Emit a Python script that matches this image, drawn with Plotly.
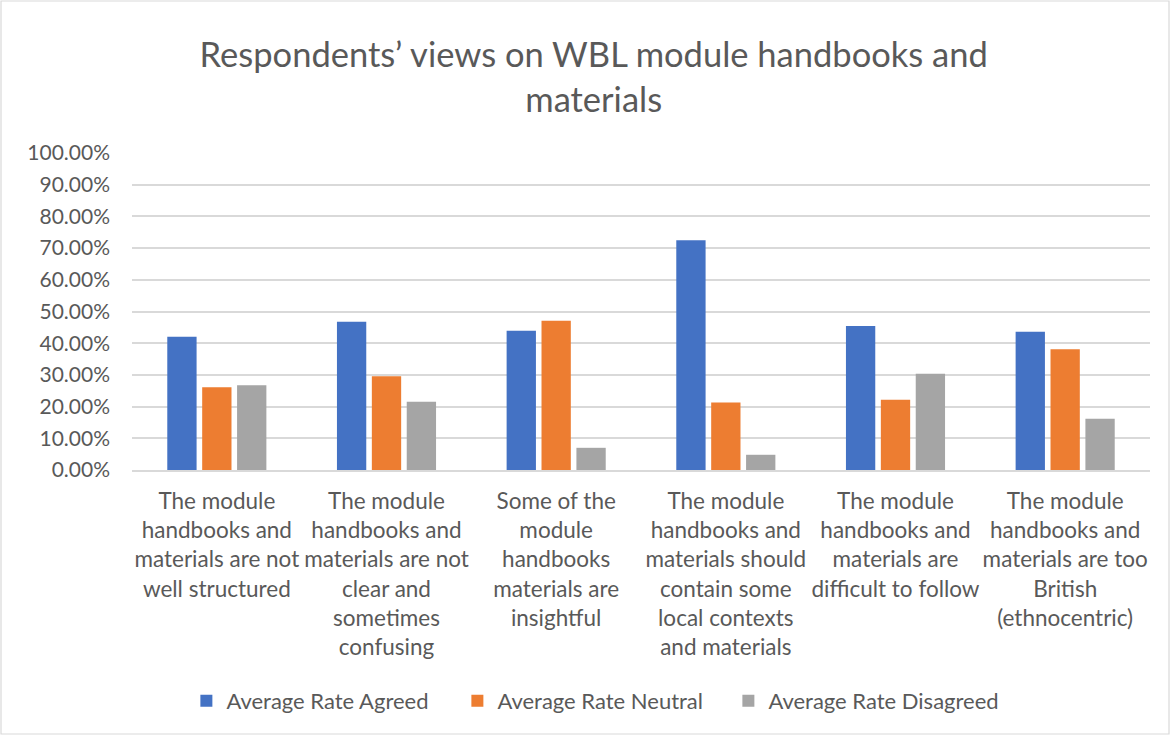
import plotly.graph_objects as go

# Survey statements (x-axis categories)
categories = [
    "The module<br>handbooks and<br>materials are not<br>well structured",
    "The module<br>handbooks and<br>materials are not<br>clear and<br>sometimes<br>confusing",
    "Some of the<br>module<br>handbooks<br>materials are<br>insightful",
    "The module<br>handbooks and<br>materials should<br>contain some<br>local contexts<br>and materials",
    "The module<br>handbooks and<br>materials are<br>difficult to follow",
    "The module<br>handbooks and<br>materials are too<br>British<br>(ethnocentric)",
]

# Average response rates per statement
agreed = [0.420, 0.468, 0.439, 0.725, 0.454, 0.436]
neutral = [0.261, 0.296, 0.471, 0.213, 0.222, 0.381]
disagreed = [0.267, 0.215, 0.070, 0.048, 0.304, 0.162]

series_names = ["Average Rate Agreed", "Average Rate Neutral", "Average Rate Disagreed"]
series_colors = ["#4472C4", "#ED7D31", "#A5A5A5"]

title_text = "Respondents’ views on WBL module handbooks and<br>materials"

FONT = "Lato"
GREY_TEXT = "#595959"
W, H = 1171, 736
L, R, T, B = 132, 21, 153, 266

fig = go.Figure()
for name, vals, col in zip(series_names, [agreed, neutral, disagreed], series_colors):
    fig.add_trace(go.Bar(
        x=categories, y=vals, name=name,
        marker=dict(color=col, line=dict(width=0)),
    ))

plot_w = W - L - R
plot_h = H - T - B

fig.update_layout(
    width=W, height=H,
    margin=dict(l=L, r=R, t=T, b=B, autoexpand=False),
    paper_bgcolor="white", plot_bgcolor="white",
    barmode="group", bargap=0.383, bargroupgap=0.16,
    font=dict(family=FONT, color=GREY_TEXT),
    title=dict(
        text=title_text, x=0.507, xref="container", xanchor="center",
        y=(H - 67) / H, yref="container", yanchor="middle",
        font=dict(family=FONT, size=34.5, color=GREY_TEXT),
    ),
    legend=dict(
        orientation="h", x=0.5063, xref="container", xanchor="center",
        y=(H - 701) / H, yref="container", yanchor="middle",
        font=dict(family=FONT, size=22, color=GREY_TEXT),
        itemwidth=30, traceorder="normal",
        entrywidth=226, entrywidthmode="pixels",
    ),
    yaxis=dict(
        range=[0, 1], dtick=0.1, tickformat=".2%",
        showgrid=True, gridcolor="#D9D9D9", gridwidth=1.5,
        zeroline=False, showline=False, ticks="",
        tickfont=dict(family=FONT, size=21, color=GREY_TEXT),
        ticklabelstandoff=21,
    ),
    xaxis=dict(
        showline=True, linecolor="#D9D9D9", linewidth=1.5,
        ticks="", tickangle=0,
        tickfont=dict(family=FONT, size=22.5, color=GREY_TEXT),
        ticklabelstandoff=10,
    ),
    shapes=[dict(
        type="rect", xref="paper", yref="paper",
        x0=(1 - L) / plot_w, x1=(W - 2 - L) / plot_w,
        y0=-(H - 2 - (H - B)) / plot_h, y1=1 + (T - 1) / plot_h,
        line=dict(color="#D9D9D9", width=1.2), fillcolor="rgba(0,0,0,0)",
        layer="below",
    )],
)

fig.write_html("out.html")
